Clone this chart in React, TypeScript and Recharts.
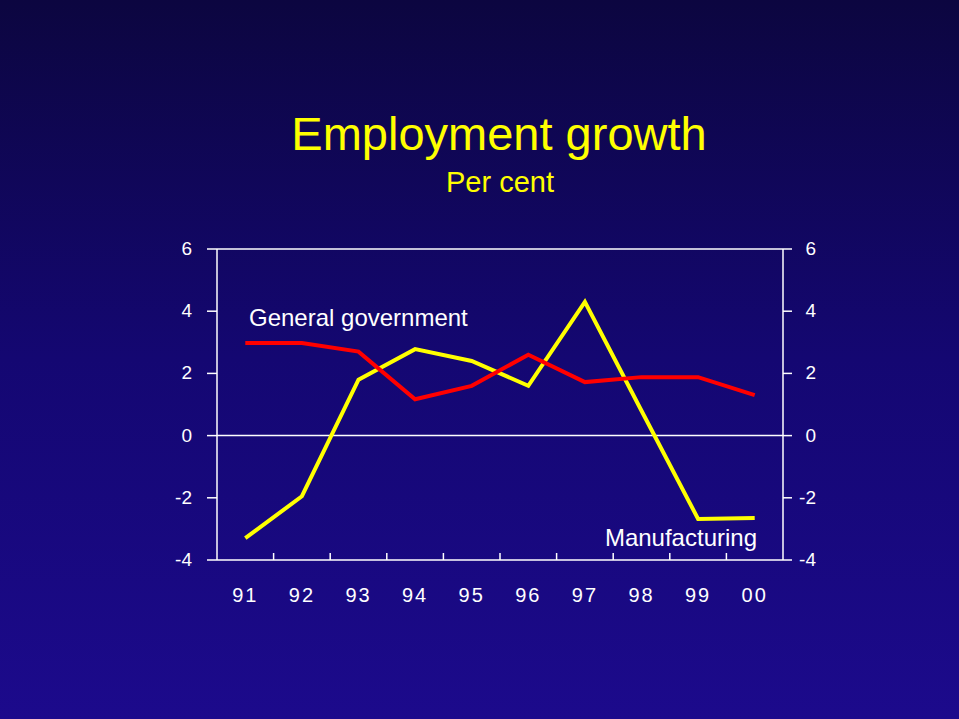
import React from "react";
import { LineChart, Line, XAxis, YAxis, ReferenceLine } from "recharts";

// Years shown on the category axis
const YEARS = ["91", "92", "93", "94", "95", "96", "97", "98", "99", "00"];

// Per cent growth
const MANUFACTURING = [-3.3, -1.95, 1.8, 2.78, 2.4, 1.6, 4.3, 0.8, -2.68, -2.65];
const GENERAL_GOVERNMENT = [2.98, 2.98, 2.7, 1.17, 1.6, 2.6, 1.72, 1.88, 1.88, 1.3];

const Y_TICKS = [-4, -2, 0, 2, 4, 6];

const FONT = "'Liberation Sans', Arial, sans-serif";
const WHITE = "#ffffff";

const data = YEARS.map((year, i) => ({
  year,
  manufacturing: MANUFACTURING[i],
  government: GENERAL_GOVERNMENT[i],
}));

// label under the band centre, plus an inward tick on the band's left edge
const YearTick = (props: any) => {
  const { x, y, payload, index } = props;
  const half = payload && payload.offset ? payload.offset : 0;
  return (
    <g>
      {index > 0 && half > 0 && (
        <line x1={x - half} x2={x - half} y1={y - 7} y2={y} stroke={WHITE} strokeWidth={1.5} />
      )}
      <text x={x} y={y} dy={42} textAnchor="middle" fill={WHITE} fontSize={20} fontFamily={FONT} letterSpacing={2}>
        {payload.value}
      </text>
    </g>
  );
};

const LeftTick = (props: any) => {
  const { x, y, payload } = props;
  return (
    <text x={x} y={y} dy={6} textAnchor="end" fill={WHITE} fontSize={19} fontFamily={FONT}>
      {payload.value}
    </text>
  );
};

const RightTick = (props: any) => {
  const { x, y, payload } = props;
  return (
    <text x={x + 24} y={y} dy={6} textAnchor="end" fill={WHITE} fontSize={19} fontFamily={FONT}>
      {payload.value}
    </text>
  );
};

export default function App() {
  return (
    <div
      style={{
        position: "absolute",
        left: 0,
        top: 0,
        width: 959,
        height: 719,
        background: "linear-gradient(to bottom, #0c0640 0%, #140772 50%, #1c0a8c 100%)",
        overflow: "hidden",
      }}
    >
      <LineChart
        width={959}
        height={719}
        data={data}
        margin={{ top: 249, right: 116, bottom: 109, left: 157 }}
        style={{ position: "absolute", left: 0, top: 0 }}
      >
        <XAxis
          xAxisId="cat"
          dataKey="year"
          scale="band"
          height={50}
          axisLine={{ stroke: WHITE, strokeWidth: 1.5 }}
          tickLine={false}
          tickSize={0}
          tickMargin={0}
          tick={<YearTick />}
          interval={0}
        />
        <YAxis
          yAxisId="left"
          width={60}
          domain={[-4, 6]}
          ticks={Y_TICKS}
          allowDataOverflow
          axisLine={{ stroke: WHITE, strokeWidth: 1.5 }}
          tickLine={{ stroke: WHITE, strokeWidth: 1.5 }}
          tickSize={10}
          tickMargin={15}
          tick={<LeftTick />}
        />
        <YAxis
          yAxisId="right"
          orientation="right"
          width={60}
          domain={[-4, 6]}
          ticks={Y_TICKS}
          allowDataOverflow
          axisLine={{ stroke: WHITE, strokeWidth: 1.5 }}
          tickLine={{ stroke: WHITE, strokeWidth: 1.5 }}
          tickSize={9}
          tickMargin={0}
          tick={<RightTick />}
        />
        <ReferenceLine yAxisId="left" xAxisId="cat" y={6} stroke={WHITE} strokeWidth={1.5} />
        <ReferenceLine yAxisId="left" xAxisId="cat" y={0} stroke={WHITE} strokeWidth={1.5} />
        <Line
          xAxisId="cat"
          yAxisId="left"
          type="linear"
          dataKey="manufacturing"
          stroke="#ffff00"
          strokeWidth={4}
          dot={false}
          isAnimationActive={false}
        />
        <Line
          xAxisId="cat"
          yAxisId="left"
          type="linear"
          dataKey="government"
          stroke="#ff0000"
          strokeWidth={4}
          dot={false}
          isAnimationActive={false}
        />
      </LineChart>
      <svg width={959} height={719} style={{ position: "absolute", left: 0, top: 0, pointerEvents: "none" }}>
        <text x={499} y={150} textAnchor="middle" fill="#ffff00" fontSize={47} fontFamily={FONT}>
          Employment growth
        </text>
        <text x={500} y={192} textAnchor="middle" fill="#ffff00" fontSize={29} fontFamily={FONT}>
          Per cent
        </text>
        <text x={249} y={326} fill={WHITE} fontSize={24} fontFamily={FONT}>
          General government
        </text>
        <text x={757} y={546} textAnchor="end" fill={WHITE} fontSize={24} fontFamily={FONT}>
          Manufacturing
        </text>
      </svg>
    </div>
  );
}
